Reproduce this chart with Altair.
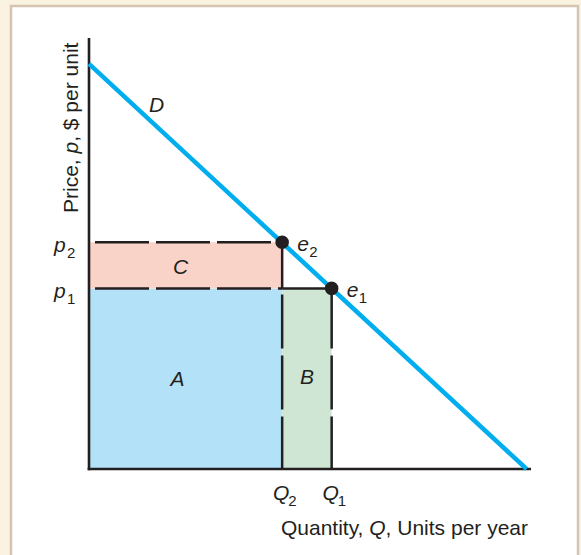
import altair as alt
import pandas as pd

# Demand curve D (end points on the two axes)
demand_q = [0, 99]
demand_p = [94, 0]

# Equilibria on the demand curve
eq_names = ["e2", "e1"]
eq_q = [43.7, 54.9]
eq_p = [52.6, 41.9]
Q2, Q1 = eq_q
P2, P1 = eq_p

# Shaded revenue areas A, B, C
area_names = ["A", "B", "C"]
area_q0 = [0, Q2, 0]
area_q1 = [Q2, Q1, Q2]
area_p0 = [0, 0, P1]
area_p1 = [P1, P1, P2]
area_colors = ["#b3e2f8", "#cee6d3", "#f9d3c7"]
area_label_q = [20.0, 49.3, 20.7]
area_label_p = [20.6, 21.1, 46.6]

curve_label = ["D"]
curve_label_q = [15.3]
curve_label_p = [84.2]

# Tick labels with subscripts
p_ticks = ["p", "p"]
p_subs = ["2", "1"]
q_ticks = ["Q", "Q"]
q_subs = ["2", "1"]
eq_base = ["e", "e"]
eq_subs = ["2", "1"]

x_title = ["Quantity,", "Q", ", Units per year"]
y_title = ["Price,", "p", ", $ per unit"]

INK = "#231f20"
BLUE = "#00aeef"
FONT = "Liberation Sans"
F = 21        # main text size
FS = 15       # subscript size
DASH = [54, 7]

W, H = 442, 431
xs = alt.Scale(domain=[0, 100], nice=False, zero=False)
ys = alt.Scale(domain=[0, 100], nice=False, zero=False)


def X(f):
    return alt.X(f, type="quantitative", scale=xs, axis=None)


def Y(f):
    return alt.Y(f, type="quantitative", scale=ys, axis=None)


def texts(df, **kw):
    opts = dict(font=FONT, color=INK, fontSize=F)
    opts.update(kw)
    return alt.Chart(df).mark_text(**opts).encode(x=X("q"), y=Y("p"), text="t:N")


# white panel with a tan frame
panel = alt.Chart(pd.DataFrame({"k": [0]})).mark_rect(
    fill="white", stroke="#d4c4b1", strokeWidth=2.5
).encode(x=alt.value(-78), x2=alt.value(489), y=alt.value(-32), y2=alt.value(600))

areas_df = pd.DataFrame({
    "name": area_names, "q0": area_q0, "q1": area_q1, "p0": area_p0, "p1": area_p1,
})
areas = alt.Chart(areas_df).mark_rect().encode(
    x=X("q0"), x2="q1", y=Y("p0"), y2="p1",
    color=alt.Color("name:N", scale=alt.Scale(domain=area_names, range=area_colors), legend=None),
)

dashed_df = pd.DataFrame({
    "q": [0, 0, Q2, Q1], "q2": [Q2, Q2, Q2, Q1],
    "p": [P2, P1, P1, P1], "p2": [P2, P1, 0, 0],
})
dashed = alt.Chart(dashed_df).mark_rule(
    color=INK, strokeWidth=2.5, strokeDash=DASH, strokeDashOffset=55
).encode(x=X("q"), x2="q2", y=Y("p"), y2="p2")

solid_df = pd.DataFrame({
    "q": [Q2, Q2], "q2": [Q2, Q1], "p": [P2, P1], "p2": [P1, P1],
})
solid = alt.Chart(solid_df).mark_rule(color=INK, strokeWidth=2.5).encode(
    x=X("q"), x2="q2", y=Y("p"), y2="p2"
)

axes_df = pd.DataFrame({
    "q": [0, -0.3], "q2": [0, 100], "p": [100, 0], "p2": [-0.3, 0],
})
axes = alt.Chart(axes_df).mark_rule(color=INK, strokeWidth=2.6).encode(
    x=X("q"), x2="q2", y=Y("p"), y2="p2"
)

demand = alt.Chart(pd.DataFrame({"q": demand_q, "p": demand_p})).mark_line(
    color=BLUE, strokeWidth=4.5, strokeCap="butt"
).encode(x=X("q"), y=Y("p"))

dots = alt.Chart(pd.DataFrame({"q": eq_q, "p": eq_p, "n": eq_names})).mark_circle(
    color=INK, opacity=1, size=185
).encode(x=X("q"), y=Y("p"))

area_txt = texts(pd.DataFrame({"q": area_label_q, "p": area_label_p, "t": area_names}),
                 fontStyle="italic", baseline="middle", align="center")
curve_txt = texts(pd.DataFrame({"q": curve_label_q, "p": curve_label_p, "t": curve_label}),
                  fontStyle="italic", baseline="middle", align="center")

# p1, p2 beside the price axis
pt_df = pd.DataFrame({"q": [0, 0], "p": eq_p, "t": p_ticks})
ps_df = pd.DataFrame({"q": [0, 0], "p": eq_p, "t": p_subs})
p_txt = texts(pt_df, fontStyle="italic", align="left", dx=-35, dy=4)
p_sub = texts(ps_df, fontSize=FS, align="left", dx=-22, dy=11)

# Q2, Q1 under the quantity axis
qt_df = pd.DataFrame({"q": eq_q, "p": [0, 0], "t": q_ticks})
qs_df = pd.DataFrame({"q": eq_q, "p": [0, 0], "t": q_subs})
q_txt = texts(qt_df, fontStyle="italic", align="center", dx=-1, dy=25)
q_sub = texts(qs_df, fontSize=FS, align="left", dx=6, dy=32)

# e2, e1 next to the equilibrium points
et_df = pd.DataFrame({"q": eq_q, "p": eq_p, "t": eq_base})
es_df = pd.DataFrame({"q": eq_q, "p": eq_p, "t": eq_subs})
e_txt = texts(et_df, fontStyle="italic", align="left", dx=15, dy=3)
e_sub = texts(es_df, fontSize=FS, align="left", dx=27, dy=10)

# axis titles, built from upright and italic pieces (Arial-compatible advance widths)
w_space = 0.278 * F
w_Q = 0.778 * F
w_rest_x = 6.780 * F
x_t1 = texts(pd.DataFrame({"q": [100], "p": [0], "t": [x_title[0]]}), align="right",
             dx=-3 - w_rest_x - w_Q - w_space, dy=60)
x_t2 = texts(pd.DataFrame({"q": [100], "p": [0], "t": [x_title[1]]}), align="right",
             fontStyle="italic", dx=-3 - w_rest_x, dy=60)
x_t3 = texts(pd.DataFrame({"q": [100], "p": [0], "t": [x_title[2]]}), align="right",
             dx=-3, dy=60)

w_price = 2.834 * F
w_p = 0.556 * F
y0 = 256
y_t1 = texts(pd.DataFrame({"q": [0], "p": [0], "t": [y_title[0]]}), align="left", angle=270,
             dx=y0, dy=-17)
y_t2 = texts(pd.DataFrame({"q": [0], "p": [0], "t": [y_title[1]]}), align="left", angle=270,
             fontStyle="italic", dx=y0 + w_price, dy=-17)
y_t3 = texts(pd.DataFrame({"q": [0], "p": [0], "t": [y_title[2]]}), align="left", angle=270,
             dx=y0 + w_price + w_p, dy=-17)

chart = alt.layer(
    panel, areas, dashed, solid, axes, demand, dots,
    area_txt, curve_txt, p_txt, p_sub, q_txt, q_sub, e_txt, e_sub,
    x_t1, x_t2, x_t3, y_t1, y_t2, y_t3,
).properties(
    width=W, height=H,
    autosize=alt.AutoSizeParams(type="none"),
    padding={"left": 89, "top": 38, "right": 50, "bottom": 86},
    background="#faf3e2",
).configure_view(stroke=None)

chart.save("out.html", embed_options={"renderer": "svg", "actions": False})
